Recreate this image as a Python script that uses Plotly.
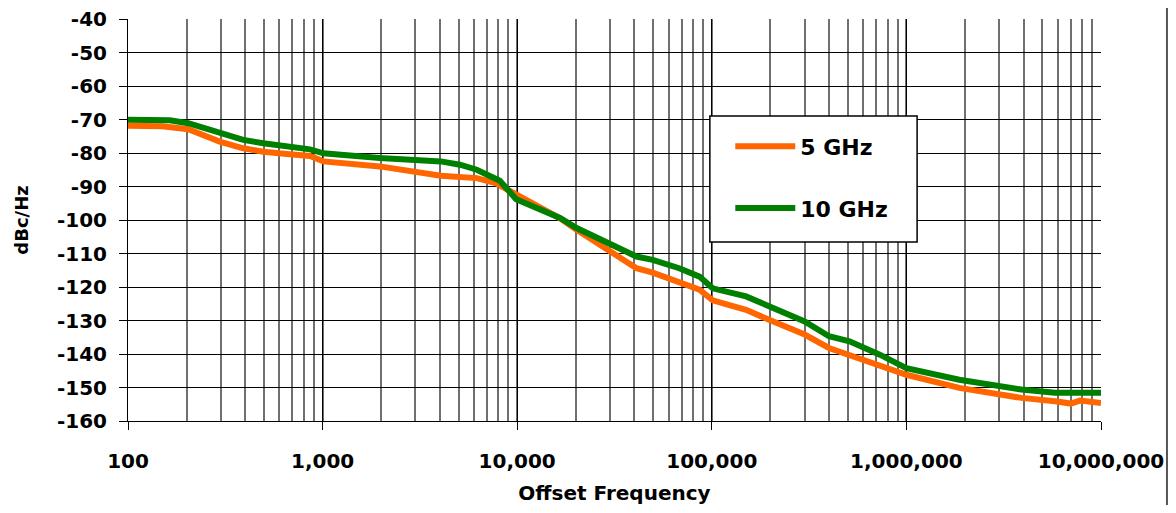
import plotly.graph_objects as go

freq_5ghz = [100, 150, 204, 296, 391, 496, 655, 862, 1010, 1966, 4050, 6200, 7750, 9880,
             13000, 16600, 20200, 30000, 41000, 49700, 68000, 86500, 101000, 150000,
             197000, 300000, 400000, 510000, 730000, 1000000, 1870000, 2900000,
             3900000, 5800000, 7000000, 7800000, 10000000]
pn_5ghz = [-71.9, -72.0, -72.9, -76.6, -78.6, -79.6, -80.3, -80.9, -82.5, -84.0, -86.8,
           -87.5, -89.0, -92.5, -96.3, -99.5, -102.9, -109.4, -114.4, -115.7, -118.6,
           -120.8, -124.0, -126.8, -129.8, -134.2, -138.2, -140.2, -143.2, -146.2,
           -150.1, -152.1, -153.1, -154.1, -154.8, -153.9, -154.6]

freq_10ghz = [100, 164, 204, 296, 391, 496, 655, 862, 1010, 1966, 4050, 5080, 6200, 8140,
              9880, 13000, 16600, 20200, 30000, 41000, 49700, 68000, 86500, 101000,
              150000, 197000, 300000, 400000, 510000, 730000, 820000, 1000000, 1870000,
              2900000, 3900000, 5800000, 10000000]
pn_10ghz = [-70.1, -70.2, -71.1, -74.1, -76.1, -77.1, -78.1, -78.9, -80.1, -81.5, -82.5,
            -83.5, -85.0, -88.3, -93.8, -96.8, -99.4, -102.4, -107.4, -110.9, -111.9,
            -114.4, -116.9, -120.4, -122.8, -125.8, -130.3, -134.7, -136.2, -140.2,
            -141.7, -144.2, -147.7, -149.7, -150.6, -151.6, -151.6]

x_ticks = [100, 1000, 10000, 100000, 1000000, 10000000]
x_labels = ["100", "1,000", "10,000", "100,000", "1,000,000", "10,000,000"]
y_ticks = list(range(-160, -30, 10))
y_labels = [str(v) for v in y_ticks]

fig = go.Figure()
fig.add_trace(go.Scatter(x=freq_5ghz, y=pn_5ghz, name="5 GHz", mode="lines",
                         line=dict(color="#FF6600", width=6), legendgroup="a"))
fig.add_trace(go.Scatter(x=freq_10ghz, y=pn_10ghz, name="10 GHz", mode="lines",
                         line=dict(color="#008000", width=6), legendgroup="b"))

# page body has an 8px margin, so the figure is a little smaller than the window
bold = "DejaVu Sans"
fig.update_layout(
    width=1160, height=497,
    margin=dict(l=120, r=67, t=11, b=84),
    plot_bgcolor="white", paper_bgcolor="white",
    font=dict(family=bold, size=20, color="black", weight="bold"),
    legend=dict(x=0.619, y=0.735, xanchor="left", yanchor="top",
                bgcolor="rgba(0,0,0,0)", borderwidth=0,
                font=dict(size=22, family=bold, weight="bold"),
                traceorder="grouped", tracegroupgap=30, itemwidth=60),
    xaxis=dict(type="log", range=[2, 7], tickvals=x_ticks, ticktext=x_labels,
               automargin=False, showline=True, linecolor="black",
               ticks="outside", ticklen=8, tickcolor="black", ticklabelstandoff=14,
               ticklabeloverflow="allow",
               showgrid=True, gridcolor="black", gridwidth=1,
               minor=dict(showgrid=True, gridcolor="#707070", gridwidth=1.5,
                          dtick="D1", ticks=""),
               title=dict(text="Offset Frequency", font=dict(size=20, weight="bold"),
                          standoff=21),
               zeroline=False),
    yaxis=dict(range=[-160, -40], tickvals=y_ticks, ticktext=y_labels,
               automargin=False, showline=True, linecolor="black",
               ticks="outside", ticklen=8, tickcolor="black", ticklabelstandoff=8,
               ticklabeloverflow="allow",
               showgrid=True, gridcolor="black", gridwidth=1,
               title=dict(text="dBc/Hz", font=dict(size=18, weight="bold"),
                          standoff=23),
               zeroline=False),
    shapes=[
        dict(type="rect", xref="paper", yref="paper", x0=0.598, x1=0.811,
             y0=0.445, y1=0.759, fillcolor="white", layer="above",
             line=dict(color="black", width=1.5)),
        dict(type="line", xref="paper", yref="paper", x0=1.0678, x1=1.0678,
             y0=-0.25, y1=1.05, line=dict(color="#555555", width=2)),
    ],
)

fig.write_html("out.html")
